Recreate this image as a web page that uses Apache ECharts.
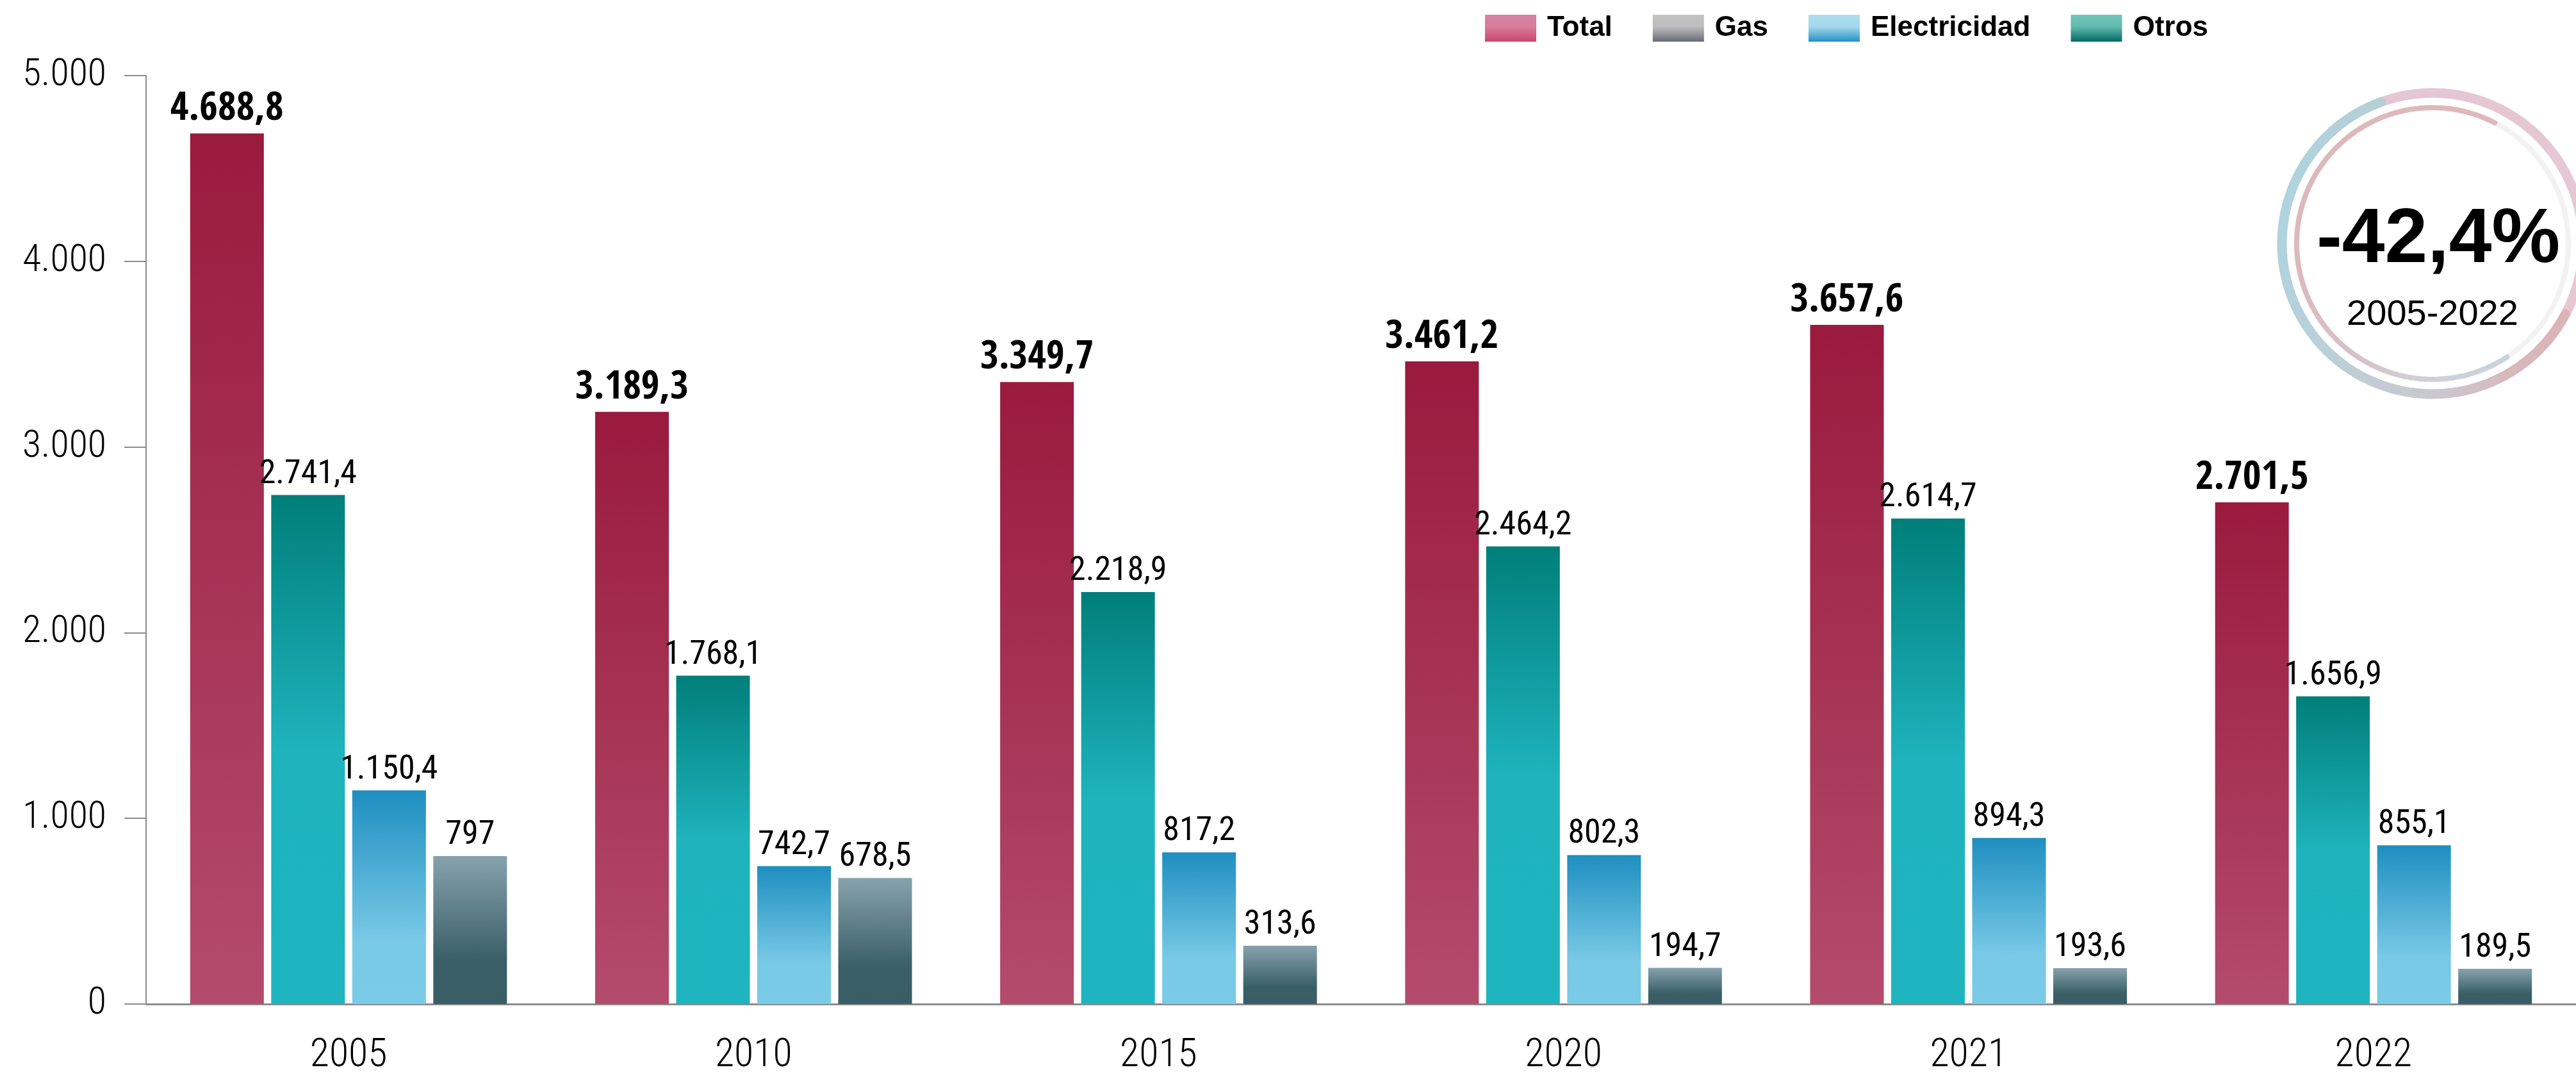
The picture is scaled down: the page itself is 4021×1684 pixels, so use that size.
<!DOCTYPE html>
<html>
<head>
<meta charset="utf-8">
<script src="https://cdn.jsdelivr.net/npm/echarts@6/dist/echarts.min.js"></script>
<style>
  html, body { margin: 0; padding: 0; background: #ffffff; }
  #chart { width: 4021px; height: 1684px; }
</style>
</head>
<body>
<div id="chart"></div>
<script>
// Emisiones por fuente (valores en miles)
const years = ['2005', '2010', '2015', '2020', '2021', '2022'];
const total = [4688.8, 3189.3, 3349.7, 3461.2, 3657.6, 2701.5];
const otros = [2741.4, 1768.1, 2218.9, 2464.2, 2614.7, 1656.9];
const electricidad = [1150.4, 742.7, 817.2, 802.3, 894.3, 855.1];
const gas = [797, 678.5, 313.6, 194.7, 193.6, 189.5];
const yTicks = [0, 1000, 2000, 3000, 4000, 5000];
const legendOrder = ['Total', 'Gas', 'Electricidad', 'Otros'];
const changeText = '-42,4%';
const periodText = '2005-2022';

const COND = '"Roboto Condensed", "DejaVu Sans Condensed", sans-serif';
const COND_BOLD = '"Open Sans Condensed", "Roboto Condensed", "DejaVu Sans Condensed", sans-serif';
const WIDE = '"Liberation Sans", Arial, sans-serif';

// Spanish number format: dot for thousands, comma for decimals
function fmt(v) {
  const parts = String(v).split('.');
  const intPart = parts[0].replace(/\B(?=(\d{3})+(?!\d))/g, '.');
  return parts[1] ? intPart + ',' + parts[1] : intPart;
}

const G = echarts.graphic.LinearGradient;
const vgrad = (stops) => new G(0, 0, 0, 1, stops.map(s => ({ offset: s[0], color: s[1] })));

const barColors = {
  Total: vgrad([[0, '#9a1a3e'], [0.55, '#a73556'], [1, '#b44b6d']]),
  Otros: vgrad([[0, '#007f7a'], [0.5, '#1eb3bd'], [1, '#1fb5c0']]),
  Electricidad: vgrad([[0, '#1e8fc0'], [0.7, '#78c9e6'], [1, '#7acbe7']]),
  Gas: vgrad([[0, '#87a2ad'], [0.7, '#3a5f67'], [1, '#385d65']])
};
const legendColors = {
  Total: vgrad([[0, '#d982a2'], [0.45, '#d87d9c'], [1, '#cc4468']]),
  Gas: vgrad([[0, '#c3c3c3'], [0.45, '#bdbdbe'], [1, '#686b76']]),
  Electricidad: vgrad([[0, '#acdeef'], [0.45, '#a3d8ec'], [1, '#2190c3']]),
  Otros: vgrad([[0, '#70c5b9'], [0.45, '#62b9ad'], [1, '#006c64']])
};

// Ring decoration helpers
const CX = 3797, CY = 380;
function hex2rgb(h) { return [1, 3, 5].map(i => parseInt(h.substr(i, 2), 16)); }
function colorAt(stops, a) {
  for (let i = 0; i < stops.length - 1; i++) {
    const [a0, c0] = stops[i], [a1, c1] = stops[i + 1];
    if (a >= a0 && a <= a1) {
      const t = (a - a0) / (a1 - a0 || 1);
      const p = hex2rgb(c0), q = hex2rgb(c1);
      return 'rgb(' + p.map((v, k) => Math.round(v + (q[k] - v) * t)).join(',') + ')';
    }
  }
  return stops[stops.length - 1][1];
}
function ringArc(r, lw, from, to, stops, n, roundEnds) {
  const out = [];
  const rad = d => d * Math.PI / 180;
  for (let i = 0; i < n; i++) {
    const a0 = from + (to - from) * i / n;
    const a1 = from + (to - from) * (i + 1) / n;
    const cap = roundEnds && (i === 0 || i === n - 1) ? 'round' : 'butt';
    out.push({
      type: 'arc', silent: true, z: 10,
      shape: { cx: CX, cy: CY, r: r, startAngle: rad(a0), endAngle: rad(a1 + (i < n - 1 ? 0.6 : 0)), clockwise: true },
      style: { stroke: colorAt(stops, (a0 + a1) / 2), lineWidth: lw, fill: 'none', lineCap: cap }
    });
  }
  return out;
}

const ring = []
  .concat(ringArc(235, 15, -110, 28, [[-110, '#e4c7d2'], [28, '#e6c8d3']], 4, false))
  .concat(ringArc(235, 15, 28, 250, [[28, '#dcb3b6'], [60, '#d7b9bd'], [90, '#cac8cf'], [130, '#bdcfd6'], [165, '#b2d2dd'], [200, '#afd3df'], [250, '#b6cfd7']], 80, true))
  .concat(ringArc(212, 8, -62.7, 56.7, [[-62.7, '#f2f2f2'], [56.7, '#f2f2f2']], 4, false))
  .concat(ringArc(212, 8, 56.7, 297.3, [[56.7, '#c8d4dc'], [90, '#ced1d8'], [125, '#d7c3c7'], [155, '#dbbbbe'], [200, '#dcb9bb'], [297.3, '#ddb9bb']], 80, true));

const labelBase = { show: true, position: 'top', distance: 6, fontFamily: COND, fontSize: 52, color: '#000', formatter: p => fmt(p.value) };

function barSeries(name, data, extraLabel) {
  return {
    name: name, type: 'bar', data: data,
    barWidth: 115, barGap: '10%',
    itemStyle: { color: barColors[name] },
    label: Object.assign({}, labelBase, extraLabel || {}),
    emphasis: { disabled: true }
  };
}

const chart = echarts.init(document.getElementById('chart'), null, { renderer: 'canvas' });
chart.setOption({
  backgroundColor: '#ffffff',
  animation: false,
  grid: { left: 228, right: 0, top: 118, bottom: 117, containLabel: false },
  legend: {
    left: 2313, top: 17,
    icon: 'rect', itemWidth: 80, itemHeight: 42, itemGap: 63,
    selectedMode: false,
    textStyle: { fontFamily: WIDE, fontWeight: 'bold', fontSize: 44, color: '#000', padding: [0, 0, 0, 12] },
    data: legendOrder.map(n => ({ name: n, itemStyle: { color: legendColors[n] } }))
  },
  xAxis: {
    type: 'category', data: years,
    axisLine: { lineStyle: { color: '#8c8c8c', width: 3 } },
    axisTick: { show: false },
    axisLabel: { margin: 50, fontFamily: COND, fontWeight: 300, fontSize: 62, color: '#000' }
  },
  yAxis: {
    type: 'value', min: yTicks[0], max: yTicks[yTicks.length - 1], interval: yTicks[1] - yTicks[0],
    axisLine: { show: true, lineStyle: { color: '#8c8c8c', width: 2 } },
    axisTick: { show: true, inside: false, length: 34, lineStyle: { color: '#8c8c8c', width: 2 } },
    splitLine: { show: false },
    axisLabel: { margin: 62, fontFamily: COND, fontWeight: 300, fontSize: 60, color: '#000', formatter: v => fmt(v) }
  },
  series: [
    barSeries('Total', total, { fontFamily: COND_BOLD, fontWeight: 'bold', fontSize: 62, distance: 6 }),
    barSeries('Otros', otros),
    barSeries('Electricidad', electricidad),
    barSeries('Gas', gas)
  ],
  graphic: ring.concat([
    { type: 'text', silent: true, z: 11, style: { text: changeText, x: 3806, y: 376, align: 'center', verticalAlign: 'middle', fontFamily: WIDE, fontWeight: 'bold', fontSize: 120, fill: '#000' } },
    { type: 'text', silent: true, z: 11, style: { text: periodText, x: 3797, y: 492, align: 'center', verticalAlign: 'middle', fontFamily: WIDE, fontSize: 56, fill: '#000' } }
  ])
});
</script>
</body>
</html>
